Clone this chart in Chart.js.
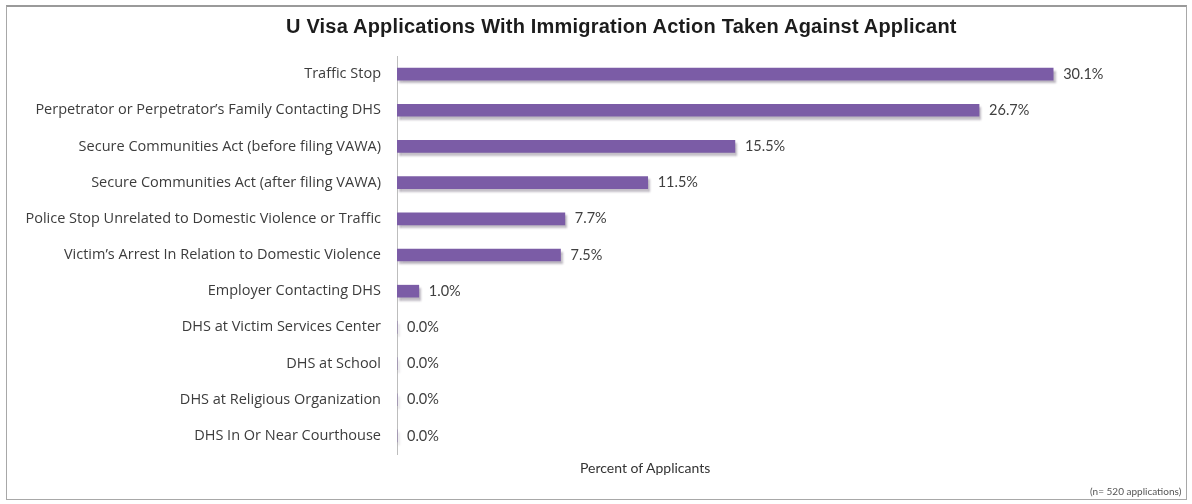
<!DOCTYPE html>
<html>
<head>
<meta charset="utf-8">
<title>U Visa Applications With Immigration Action Taken Against Applicant</title>
<script src="https://cdn.jsdelivr.net/npm/chart.js@4/dist/chart.umd.min.js"></script>
<style>
  html, body { margin: 0; padding: 0; background: #fff; }
  #wrap { position: relative; width: 1192px; height: 504px; overflow: hidden; }
  #frame { position: absolute; left: 6px; top: 5px; width: 1181px; height: 495px;
           border: 1px solid #a8a8a8; border-top: 2px solid #9a9a9a; box-sizing: border-box; }
  #box { position: absolute; left: 0; top: 0; width: 1192px; height: 504px; }
  .txt { position: absolute; white-space: nowrap; }
  #title { left: 286px; top: 15px; font: bold 20px "Liberation Sans", Arial, sans-serif; color: #1c1c1c; letter-spacing: 0.2px; }
  #xtitle { left: 580px; top: 459px; font: 14px Lato, "Open Sans", sans-serif; color: #333; }
  #note { left: 1090px; top: 485px; font: 10px Lato, "Open Sans", sans-serif; color: #555; }
</style>
</head>
<body>
<div id="wrap">
  <div id="frame"></div>
  <div id="box"><canvas id="barChart"></canvas></div>
  <div class="txt" id="title">U Visa Applications With Immigration Action Taken Against Applicant</div>
  <div class="txt" id="xtitle">Percent of Applicants</div>
  <div class="txt" id="note">(n= 520 applications)</div>
</div>
<script>
const categories = [
  "Traffic Stop",
  "Perpetrator or Perpetrator\u2019s Family Contacting DHS",
  "Secure Communities Act (before filing VAWA)",
  "Secure Communities Act (after filing VAWA)",
  "Police Stop Unrelated to Domestic Violence or Traffic",
  "Victim\u2019s Arrest In Relation to Domestic Violence",
  "Employer Contacting DHS",
  "DHS at Victim Services Center",
  "DHS at School",
  "DHS at Religious Organization",
  "DHS In Or Near Courthouse"
];
const percents = [30.1, 26.7, 15.5, 11.5, 7.7, 7.5, 1.0, 0.0, 0.0, 0.0, 0.0];

// soft drop shadow under the bars
const barShadow = {
  id: 'barShadow',
  beforeDatasetsDraw(chart) {
    const ctx = chart.ctx;
    ctx.save();
    ctx.shadowColor = 'rgba(110, 100, 120, 0.45)';
    ctx.shadowOffsetX = 2;
    ctx.shadowOffsetY = 3;
    ctx.shadowBlur = 2;
  },
  afterDatasetsDraw(chart) {
    chart.ctx.restore();
  }
};

// percentage label at the end of each bar
const valueLabels = {
  id: 'valueLabels',
  afterDraw(chart) {
    const ctx = chart.ctx;
    const meta = chart.getDatasetMeta(0);
    ctx.save();
    ctx.font = '14.5px Lato, "Open Sans", sans-serif';
    ctx.fillStyle = '#404040';
    ctx.textBaseline = 'middle';
    ctx.textAlign = 'left';
    meta.data.forEach(function(bar, i) {
      ctx.fillText(percents[i].toFixed(1) + '%', bar.x + 10, bar.y);
    });
    ctx.restore();
  }
};

const ctx = document.getElementById('barChart').getContext('2d');
const chart = new Chart(ctx, {
  type: 'bar',
  data: {
    labels: categories,
    datasets: [{
      data: percents,
      backgroundColor: '#7b5ca6',
      borderWidth: 0,
      barThickness: 12
    }]
  },
  options: {
    indexAxis: 'y',
    responsive: true,
    maintainAspectRatio: false,
    animation: false,
    layout: { padding: { top: 56, bottom: 50, left: 0, right: 32 } },
    plugins: {
      legend: { display: false },
      tooltip: { enabled: false }
    },
    scales: {
      x: {
        display: false,
        min: 0,
        max: 35
      },
      y: {
        afterFit: function(scale) { scale.width = 397; },
        grid: { display: true, drawOnChartArea: false, drawTicks: false },
        border: { display: true, color: '#bdbdbd', width: 1 },
        ticks: {
          padding: 16,
          color: '#3c3c3c',
          font: { family: '"Open Sans", Lato, sans-serif', size: 14.5 }
        }
      }
    }
  },
  plugins: [barShadow, valueLabels]
});
</script>
</body>
</html>
